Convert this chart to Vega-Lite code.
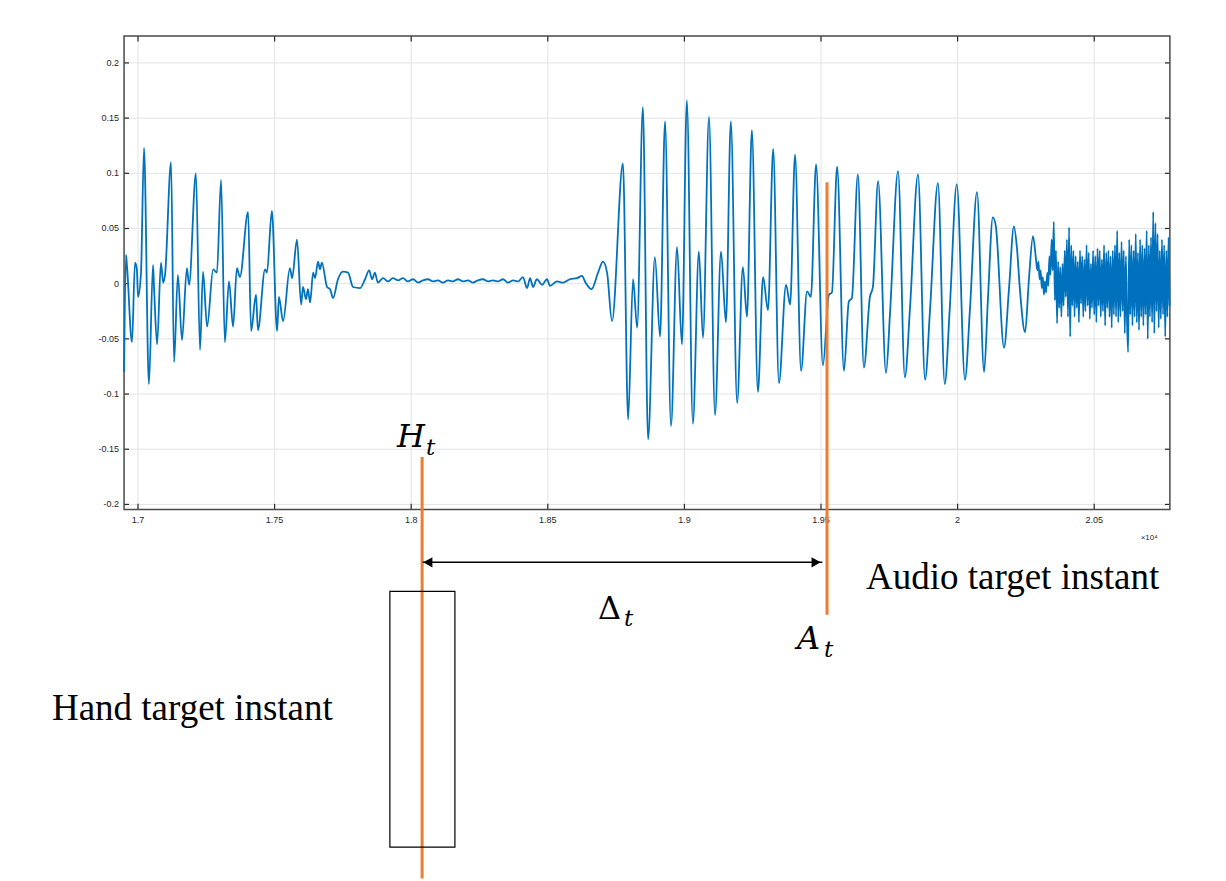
{
  "$schema": "https://vega.github.io/schema/vega-lite/v6.json",
  "width": 1226,
  "height": 881,
  "autosize": {"type": "fit", "contains": "padding"},
  "padding": 0,
  "background": "white",
  "config": {"view": {"stroke": null}},
  "datasets": {
    "wave": [
      {"t":16949,"v":-0.080},{"t":16956,"v":0.026},{"t":16960,"v":0.015},{"t":16978,"v":-0.053},{"t":16989,"v":0.019},{"t":16996,"v":0.013},{"t":17000,"v":-0.012},{"t":17011,"v":0.010},{"t":17022,"v":0.123},{"t":17040,"v":-0.091},{"t":17055,"v":0.017},{"t":17059,"v":-0.005},{"t":17070,"v":-0.055},{"t":17084,"v":0.019},{"t":17092,"v":0.001},{"t":17099,"v":0.008},{"t":17121,"v":0.110},{"t":17132,"v":-0.071},{"t":17146,"v":0.008},{"t":17161,"v":-0.051},{"t":17179,"v":0.014},{"t":17187,"v":-0.001},{"t":17212,"v":0.100},{"t":17227,"v":-0.060},{"t":17238,"v":0.011},{"t":17253,"v":-0.039},{"t":17275,"v":0.013},{"t":17289,"v":0.010},{"t":17304,"v":0.094},{"t":17318,"v":-0.053},{"t":17333,"v":0.002},{"t":17348,"v":-0.039},{"t":17362,"v":0.014},{"t":17373,"v":0.006},{"t":17403,"v":0.065},{"t":17414,"v":-0.043},{"t":17432,"v":-0.010},{"t":17439,"v":-0.042},{"t":17465,"v":0.013},{"t":17472,"v":0.010},{"t":17490,"v":0.066},{"t":17509,"v":-0.043},{"t":17516,"v":-0.012},{"t":17531,"v":-0.034},{"t":17556,"v":0.014},{"t":17564,"v":0.005},{"t":17582,"v":0.040},{"t":17597,"v":-0.019},{"t":17604,"v":-0.003},{"t":17615,"v":-0.014},{"t":17622,"v":-0.005},{"t":17630,"v":-0.017},{"t":17641,"v":0.010},{"t":17648,"v":0.005},{"t":17659,"v":0.020},{"t":17666,"v":0.013},{"t":17673,"v":0.019},{"t":17692,"v":-0.003},{"t":17703,"v":-0.005},{"t":17714,"v":-0.013},{"t":17732,"v":0.004},{"t":17750,"v":0.011},{"t":17769,"v":0.010},{"t":17787,"v":-0.003},{"t":17813,"v":-0.004},{"t":17831,"v":0.004},{"t":17846,"v":0.012},{"t":17857,"v":0.004},{"t":17867,"v":0.010},{"t":17878,"v":0.001},{"t":17897,"v":0.005},{"t":17915,"v":0.002},{"t":17933,"v":0.005},
      {"t":17952,"v":0.003},{"t":17970,"v":0.005},{"t":17988,"v":0.002},{"t":18007,"v":0.004},{"t":18025,"v":0.001},{"t":18043,"v":0.003},{"t":18061,"v":0.004},{"t":18080,"v":0.002},{"t":18098,"v":0.003},{"t":18116,"v":0.001},{"t":18135,"v":0.003},{"t":18153,"v":0.002},{"t":18171,"v":0.004},{"t":18190,"v":0.002},{"t":18208,"v":0.003},{"t":18226,"v":0.001},{"t":18244,"v":0.003},{"t":18263,"v":0.004},{"t":18281,"v":0.002},{"t":18299,"v":0.003},{"t":18318,"v":0.002},{"t":18336,"v":0.004},{"t":18354,"v":0.001},{"t":18373,"v":0.003},{"t":18391,"v":0.002},
      {"t":18409,"v":0.006},{"t":18424,"v":-0.004},{"t":18435,"v":0.005},{"t":18446,"v":-0.003},{"t":18460,"v":0.004},{"t":18479,"v":-0.001},{"t":18497,"v":0.004},{"t":18508,"v":-0.002},{"t":18534,"v":0.002},{"t":18556,"v":0.001},{"t":18581,"v":0.004},{"t":18607,"v":0.005},{"t":18625,"v":0.007},{"t":18638,"v":0.001},{"t":18660,"v":-0.005},{"t":18684,"v":0.010},{"t":18702,"v":0.020},{"t":18717,"v":0.010},{"t":18735,"v":-0.034},{"t":18775,"v":0.109},{"t":18794,"v":-0.123},{"t":18812,"v":0.004},{"t":18827,"v":-0.040},{"t":18848,"v":0.160},{"t":18867,"v":-0.141},{"t":18892,"v":0.024},{"t":18911,"v":-0.048},{"t":18929,"v":0.147},{"t":18951,"v":-0.129},{"t":18973,"v":0.033},{"t":18991,"v":-0.055},{"t":19009,"v":0.166},{"t":19031,"v":-0.127},{"t":19053,"v":0.029},{"t":19068,"v":-0.049},{"t":19090,"v":0.151},{"t":19112,"v":-0.119},{"t":19134,"v":0.029},{"t":19152,"v":-0.035},{"t":19170,"v":0.147},{"t":19193,"v":-0.108},{"t":19214,"v":0.015},{"t":19229,"v":-0.030},{"t":19247,"v":0.139},{"t":19269,"v":-0.098},{"t":19288,"v":0.006},{"t":19306,"v":-0.024},{"t":19325,"v":0.122},{"t":19346,"v":-0.090},{"t":19372,"v":-0.001},{"t":19387,"v":-0.019},{"t":19405,"v":0.117},{"t":19427,"v":-0.079},{"t":19449,"v":-0.007},{"t":19463,"v":-0.012},{"t":19482,"v":0.108},{"t":19507,"v":-0.074},{"t":19529,"v":-0.010},{"t":19540,"v":-0.008},{"t":19559,"v":0.106},{"t":19584,"v":-0.079},{"t":19602,"v":-0.016},{"t":19613,"v":-0.013},{"t":19635,"v":0.099},{"t":19657,"v":-0.076},{"t":19679,"v":-0.012},{"t":19690,"v":-0.003},{"t":19709,"v":0.093},{"t":19738,"v":-0.081},{"t":19753,"v":-0.025},{"t":19782,"v":0.102},{"t":19807,"v":-0.085},{"t":19826,"v":-0.021},{"t":19855,"v":0.099},{"t":19881,"v":-0.087},{"t":19899,"v":-0.024},{"t":19928,"v":0.091},{"t":19953,"v":-0.091},{"t":19971,"v":-0.024},{"t":19997,"v":0.090},{"t":20027,"v":-0.087},{"t":20045,"v":-0.024},{"t":20071,"v":0.083},{"t":20097,"v":-0.080},{"t":20111,"v":-0.014},{"t":20129,"v":0.060},{"t":20140,"v":0.052},{"t":20170,"v":-0.058},{"t":20188,"v":-0.005},{"t":20206,"v":0.052},{"t":20217,"v":0.033},{"t":20228,"v":-0.005},{"t":20247,"v":-0.044},{"t":20261,"v":0.004},{"t":20276,"v":0.043},{"t":20287,"v":0.022},
      {"t":20292,"v":0.012},{"t":20296,"v":0.020},{"t":20300,"v":0.004},{"t":20304,"v":0.012},{"t":20308,"v":-0.004},{"t":20312,"v":0.006},{"t":20316,"v":-0.010},{"t":20320,"v":0.002},{"t":20324,"v":-0.008},{"t":20328,"v":0.010},{"t":20332,"v":-0.002},{"t":20336,"v":0.025},{"t":20340,"v":0.008},{"t":20344,"v":0.040},{"t":20348,"v":0.012},{"t":20352,"v":0.056},{"t":20356,"v":-0.015},{"t":20360,"v":0.030},{"t":20364,"v":-0.036},{"t":20368,"v":0.020},{"t":20372,"v":-0.022},{"t":20376,"v":0.015},{"t":20380,"v":-0.030},{"t":20384,"v":0.018},{"t":20388,"v":-0.020},{"t":20392,"v":0.030},{"t":20396,"v":-0.012},{"t":20400,"v":0.040},{"t":20404,"v":-0.030},{"t":20408,"v":0.051},{"t":20412,"v":-0.048},{"t":20416,"v":0.035},{"t":20420,"v":-0.020},{"t":20424,"v":0.030},{"t":20428,"v":-0.030},{"t":20432,"v":0.025},{"t":20436,"v":-0.022},{"t":20440,"v":0.020},{"t":20444,"v":-0.035},{"t":20448,"v":0.030},{"t":20452,"v":-0.018},{"t":20456,"v":0.025},{"t":20460,"v":-0.030},{"t":20464,"v":0.022},{"t":20468,"v":-0.025},{"t":20472,"v":0.035},{"t":20476,"v":-0.020},{"t":20480,"v":0.028},{"t":20484,"v":-0.032},{"t":20488,"v":0.018},{"t":20492,"v":-0.022},{"t":20496,"v":0.030},{"t":20500,"v":-0.028},{"t":20504,"v":0.025},{"t":20508,"v":-0.035},{"t":20512,"v":0.032},{"t":20516,"v":-0.020},{"t":20520,"v":0.030},{"t":20524,"v":-0.030},{"t":20528,"v":0.022},{"t":20532,"v":-0.025},{"t":20536,"v":0.035},{"t":20540,"v":-0.038},{"t":20544,"v":0.028},{"t":20548,"v":-0.022},{"t":20552,"v":0.030},{"t":20556,"v":-0.030},{"t":20560,"v":0.025},{"t":20564,"v":-0.040},{"t":20568,"v":0.030},{"t":20572,"v":-0.028},{"t":20576,"v":0.035},{"t":20580,"v":-0.030},{"t":20584,"v":0.048},{"t":20588,"v":-0.035},{"t":20592,"v":0.028},{"t":20596,"v":-0.030},{"t":20600,"v":0.038},{"t":20604,"v":-0.025},{"t":20608,"v":0.030},{"t":20612,"v":-0.045},{"t":20616,"v":0.025},{"t":20620,"v":-0.032},{"t":20624,"v":-0.062},{"t":20628,"v":0.040},{"t":20632,"v":-0.028},{"t":20636,"v":0.035},{"t":20640,"v":-0.038},{"t":20644,"v":0.030},{"t":20648,"v":-0.030},{"t":20652,"v":0.045},{"t":20656,"v":-0.035},{"t":20660,"v":0.028},{"t":20664,"v":-0.042},{"t":20668,"v":0.040},{"t":20672,"v":-0.030},{"t":20676,"v":0.035},{"t":20680,"v":-0.038},{"t":20684,"v":0.032},{"t":20688,"v":-0.028},{"t":20692,"v":0.048},{"t":20696,"v":-0.050},{"t":20700,"v":0.035},{"t":20704,"v":-0.030},{"t":20708,"v":0.042},{"t":20712,"v":-0.035},{"t":20716,"v":0.065},{"t":20720,"v":-0.045},{"t":20724,"v":0.055},{"t":20728,"v":-0.025},{"t":20732,"v":0.045},{"t":20736,"v":-0.040},{"t":20740,"v":0.030},{"t":20744,"v":-0.032},{"t":20748,"v":0.040},{"t":20752,"v":-0.028},{"t":20756,"v":0.035},{"t":20760,"v":-0.048},{"t":20764,"v":0.030},{"t":20768,"v":-0.030},{"t":20772,"v":0.042},{"t":20776,"v":-0.020}
    ],
    "gridx": [{"t":17000,"lab":"1.7"},{"t":17500,"lab":"1.75"},{"t":18000,"lab":"1.8"},{"t":18500,"lab":"1.85"},{"t":19000,"lab":"1.9"},{"t":19500,"lab":"1.95"},{"t":20000,"lab":"2"},{"t":20500,"lab":"2.05"}],
    "gridy": [{"v":-0.2,"lab":"-0.2"},{"v":-0.15,"lab":"-0.15"},{"v":-0.1,"lab":"-0.1"},{"v":-0.05,"lab":"-0.05"},{"v":0,"lab":"0"},{"v":0.05,"lab":"0.05"},{"v":0.1,"lab":"0.1"},{"v":0.15,"lab":"0.15"},{"v":0.2,"lab":"0.2"}],
    "box": [{"t":16949,"t2":20777,"v":-0.2045,"v2":0.2244}],
    "marker": [{"name":"H","t":18040,"v":-0.157,"v2":-0.539},{"name":"A","t":19522,"v":0.092,"v2":-0.300}],
    "arrow": [{"t":18042,"t2":19505,"v":-0.2525}],
    "heads": [{"dir":"left","t":18061,"v":-0.2525},{"dir":"right","t":19482,"v":-0.2525}],
    "hand": [{"t":17922,"t2":18160,"v":-0.2787,"v2":-0.5104}],
    "words": [{"label":"Audio target instant","t":19665,"v":-0.277},{"label":"Hand target instant","t":16685,"v":-0.3955}],
    "mathit": [{"label":"H","t":17948,"v":-0.148},{"label":"A","t":19412,"v":-0.331}],
    "mathup": [{"label":"Δ","t":18684,"v":-0.304}],
    "mathsub": [{"label":"t","t":18054,"v":-0.155},{"label":"t","t":18779,"v":-0.310},{"label":"t","t":19511,"v":-0.338}],
    "expo": [{"label":"×10⁴","t":20670,"v":-0.2326}]
  },
  "layer": [
    {
      "data": {"name": "gridx"},
      "mark": {"type": "rule", "color": "#e3e3e3", "strokeWidth": 1},
      "encoding": {
        "x": {"field": "t", "type": "quantitative", "scale": {"domain": [16494.9, 20982.4], "nice": false, "zero": false}, "axis": null},
        "y": {"datum": -0.2045, "type": "quantitative", "scale": {"domain": [-0.54027, 0.25701], "nice": false, "zero": false}, "axis": null},
        "y2": {"datum": 0.2244}
      }
    },
    {
      "data": {"name": "gridy"},
      "mark": {"type": "rule", "color": "#e3e3e3", "strokeWidth": 1},
      "encoding": {
        "x": {"datum": 16949, "type": "quantitative", "axis": null},
        "x2": {"datum": 20777},
        "y": {"field": "v", "type": "quantitative", "axis": null}
      }
    },
    {
      "data": {"name": "gridx"},
      "mark": {"type": "rule", "color": "#262626", "strokeWidth": 1.2},
      "encoding": {
        "x": {"field": "t", "type": "quantitative", "axis": null},
        "y": {"datum": -0.2045, "type": "quantitative", "axis": null},
        "y2": {"datum": -0.1995}
      }
    },
    {
      "data": {"name": "gridx"},
      "mark": {"type": "rule", "color": "#262626", "strokeWidth": 1.2},
      "encoding": {
        "x": {"field": "t", "type": "quantitative", "axis": null},
        "y": {"datum": 0.2244, "type": "quantitative", "axis": null},
        "y2": {"datum": 0.2194}
      }
    },
    {
      "data": {"name": "gridy"},
      "mark": {"type": "rule", "color": "#262626", "strokeWidth": 1.2},
      "encoding": {
        "x": {"datum": 16949, "type": "quantitative", "axis": null},
        "x2": {"datum": 16967},
        "y": {"field": "v", "type": "quantitative", "axis": null}
      }
    },
    {
      "data": {"name": "gridy"},
      "mark": {"type": "rule", "color": "#262626", "strokeWidth": 1.2},
      "encoding": {
        "x": {"datum": 20759, "type": "quantitative", "axis": null},
        "x2": {"datum": 20777},
        "y": {"field": "v", "type": "quantitative", "axis": null}
      }
    },
    {
      "data": {"name": "box"},
      "mark": {"type": "rect", "filled": false, "stroke": "#4a4a4a", "strokeWidth": 1.5},
      "encoding": {
        "x": {"field": "t", "type": "quantitative", "axis": null},
        "x2": {"field": "t2"},
        "y": {"field": "v", "type": "quantitative", "axis": null},
        "y2": {"field": "v2"}
      }
    },
    {
      "data": {"name": "gridx"},
      "mark": {"type": "text", "align": "center", "baseline": "top", "dy": 7, "font": "Liberation Sans", "fontSize": 9, "color": "#262626"},
      "encoding": {
        "x": {"field": "t", "type": "quantitative", "axis": null},
        "y": {"datum": -0.2045, "type": "quantitative", "axis": null},
        "text": {"field": "lab"}
      }
    },
    {
      "data": {"name": "gridy"},
      "mark": {"type": "text", "align": "right", "baseline": "middle", "dx": -5, "font": "Liberation Sans", "fontSize": 9, "color": "#262626"},
      "encoding": {
        "x": {"datum": 16949, "type": "quantitative", "axis": null},
        "y": {"field": "v", "type": "quantitative", "axis": null},
        "text": {"field": "lab"}
      }
    },
    {
      "data": {"name": "wave"},
      "mark": {"type": "line", "color": "#0072BD", "strokeWidth": 1.8, "interpolate": "monotone"},
      "encoding": {
        "x": {"field": "t", "type": "quantitative", "axis": null},
        "y": {"field": "v", "type": "quantitative", "axis": null}
      }
    },
    {
      "data": {"name": "marker"},
      "mark": {"type": "rule", "color": "#ED7D31", "strokeWidth": 3},
      "encoding": {
        "x": {"field": "t", "type": "quantitative", "axis": null},
        "y": {"field": "v", "type": "quantitative", "axis": null},
        "y2": {"field": "v2"}
      }
    },
    {
      "data": {"name": "arrow"},
      "mark": {"type": "rule", "color": "#000000", "strokeWidth": 1.5},
      "encoding": {
        "x": {"field": "t", "type": "quantitative", "axis": null},
        "x2": {"field": "t2"},
        "y": {"field": "v", "type": "quantitative", "axis": null}
      }
    },
    {
      "data": {"name": "heads"},
      "mark": {"type": "point", "filled": true, "color": "#000000", "size": 110, "opacity": 1},
      "encoding": {
        "x": {"field": "t", "type": "quantitative", "axis": null},
        "y": {"field": "v", "type": "quantitative", "axis": null},
        "shape": {"field": "dir", "type": "nominal", "scale": {"domain": ["left", "right"], "range": ["triangle-left", "triangle-right"]}, "legend": null}
      }
    },
    {
      "data": {"name": "hand"},
      "mark": {"type": "rect", "filled": false, "stroke": "#000000", "strokeWidth": 1.2},
      "encoding": {
        "x": {"field": "t", "type": "quantitative", "axis": null},
        "x2": {"field": "t2"},
        "y": {"field": "v", "type": "quantitative", "axis": null},
        "y2": {"field": "v2"}
      }
    },
    {
      "data": {"name": "words"},
      "mark": {"type": "text", "align": "left", "baseline": "alphabetic", "font": "Liberation Serif", "fontSize": 37, "color": "#000000"},
      "encoding": {
        "x": {"field": "t", "type": "quantitative", "axis": null},
        "y": {"field": "v", "type": "quantitative", "axis": null},
        "text": {"field": "label"}
      }
    },
    {
      "data": {"name": "mathit"},
      "mark": {"type": "text", "align": "left", "baseline": "alphabetic", "font": "DejaVu Serif", "fontStyle": "italic", "fontSize": 32, "color": "#000000"},
      "encoding": {
        "x": {"field": "t", "type": "quantitative", "axis": null},
        "y": {"field": "v", "type": "quantitative", "axis": null},
        "text": {"field": "label"}
      }
    },
    {
      "data": {"name": "mathup"},
      "mark": {"type": "text", "align": "left", "baseline": "alphabetic", "font": "DejaVu Serif", "fontSize": 32, "color": "#000000"},
      "encoding": {
        "x": {"field": "t", "type": "quantitative", "axis": null},
        "y": {"field": "v", "type": "quantitative", "axis": null},
        "text": {"field": "label"}
      }
    },
    {
      "data": {"name": "mathsub"},
      "mark": {"type": "text", "align": "left", "baseline": "alphabetic", "font": "DejaVu Serif", "fontStyle": "italic", "fontSize": 23, "color": "#000000"},
      "encoding": {
        "x": {"field": "t", "type": "quantitative", "axis": null},
        "y": {"field": "v", "type": "quantitative", "axis": null},
        "text": {"field": "label"}
      }
    },
    {
      "data": {"name": "expo"},
      "mark": {"type": "text", "align": "left", "baseline": "alphabetic", "font": "Liberation Sans", "fontSize": 8, "color": "#262626"},
      "encoding": {
        "x": {"field": "t", "type": "quantitative", "axis": null},
        "y": {"field": "v", "type": "quantitative", "axis": null},
        "text": {"field": "label"}
      }
    }
  ]
}
